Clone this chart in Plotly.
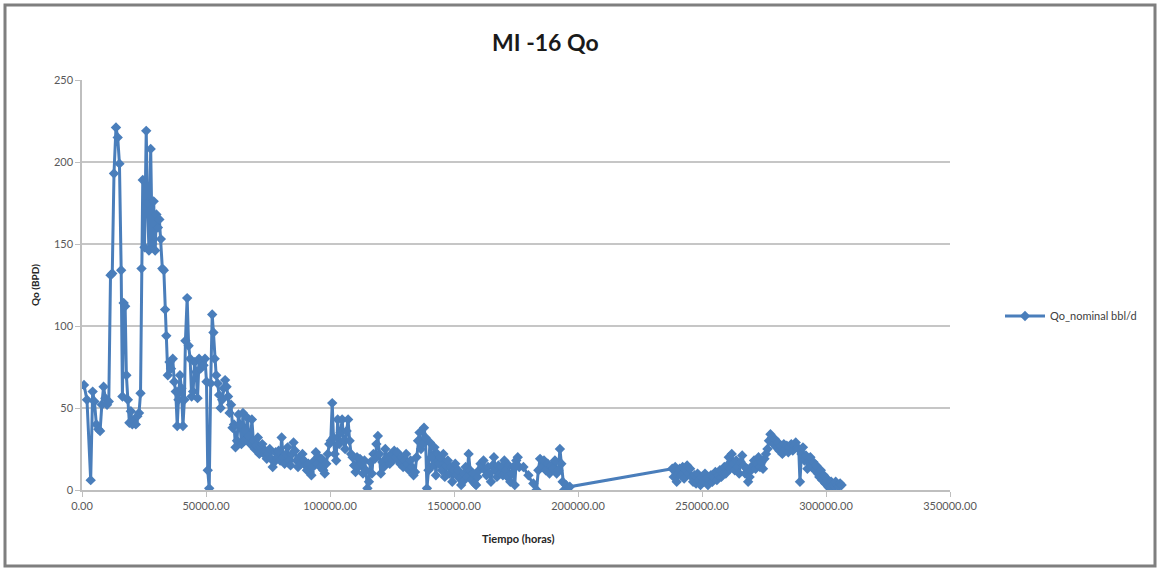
import plotly.graph_objects as go

# --- data ---
tiempo_horas = [
    800, 2000, 3500, 4300, 5000, 5800, 6600, 7300, 8000, 8700, 9400, 10100, 10800,
    11500, 12200, 12900, 13700, 14400, 15100, 15800, 16300, 16800, 17400, 17900,
    18500, 19100, 19700, 20300, 21000, 21700, 22300, 23000, 23600, 24000, 24500,
    25200, 25900, 26400, 27000, 27700, 28300, 28900, 29500, 30000, 30600, 31200,
    31800, 32400, 33000, 33500, 34000, 34600, 35300, 35900, 36600, 37200, 37800,
    38400, 38900, 39500, 40100, 40700, 41300, 41700, 42400, 43000, 43600, 44200,
    44800, 45400, 46000, 46600, 47200, 47800, 48400, 49000, 49600, 50200, 50700,
    51300, 51900, 52500, 53000, 53500, 54100, 54700, 55300, 55900, 56500, 57100,
    57700, 58300, 58900, 59500, 60100, 60700, 61300, 61900, 62500, 63100, 63700,
    64300, 64900,
    65500, 66100, 66700, 67300, 67900, 68500, 69100, 69700, 70300, 70900, 71500,
    72100, 72700, 73300, 73900, 74500, 75100, 75700, 76300, 76900, 77500, 78100,
    78700, 79300, 79900, 80500, 81100, 81700, 82300, 82900, 83500, 84100, 84700,
    85300, 85900, 86500, 87100, 87700, 88300, 88900, 89500, 90100, 90700, 91300,
    91900, 92500, 93100, 93700, 94300, 94900, 95500, 96100, 96700, 97300, 97900,
    98500, 99100, 99700, 100300, 100900, 101400, 101900, 102500, 103100, 103700,
    104300, 104900, 105500, 106100, 106700, 107300, 107900, 108500, 109100, 109700,
    110300, 110900, 111500, 112100, 112700, 113300, 113900, 114500, 115100, 115700,
    116300, 116900, 117500, 118100, 118700, 119300, 119900, 120500, 121100, 121700,
    122300, 122900, 123500, 124100, 124700, 125300, 125900, 126500, 127100, 127700,
    128300, 128900, 129500, 130100, 130700, 131300, 131900, 132500, 133100, 133700,
    134300, 134900, 135500, 136100, 136700, 137300, 137900, 138500, 139100, 139700,
    140300, 140900, 141500, 142100, 142700, 143300, 143900, 144500, 145100, 145700,
    146300, 146900, 147500, 148100, 148700, 149300, 149900, 150500, 151100, 151700,
    152300, 152900, 153500, 154100, 154700, 155300, 155900, 156500, 157100, 157700,
    158300, 158900, 159500, 160100, 160700, 161300, 161900, 162500, 163100, 163700,
    164300, 164900, 165500, 166100, 166700, 167300, 167900, 168500, 169100, 169700,
    170300, 170900, 171500, 172100, 172700, 173300, 173900, 174500, 175100, 175700,
    176300, 178000, 180000, 182000, 183300, 184000, 184700, 185500, 186300, 187000,
    187800, 188500, 189300, 190000, 190700, 191400, 192100, 192700, 193300, 193800,
    194400, 195200, 196000, 196700,
    238000, 238600, 239200, 239800, 240400, 241000, 241600, 242200, 242800, 243400,
    244000, 244600, 245200, 245800, 246400, 247000, 247600, 248200, 248800, 249400,
    250000, 250600, 251200, 251800, 252400, 253000, 253600, 254200, 254800, 255400,
    256000, 256600, 257200, 257800, 258400, 259000, 259600, 260200, 260800, 261400,
    262000, 262600, 263200, 263800, 264400, 265000, 265600, 266200, 266800, 267400,
    268000, 268600, 269200, 269800, 270400, 271000, 271600, 272200, 272800, 273400,
    274000, 274600, 275200, 275800, 276400, 277000, 277600, 278200, 278800, 279400,
    280000, 280600, 281200, 281800, 282400, 283000, 283600, 284200, 284800, 285400,
    286000, 286600, 287200, 287800, 288400, 289000, 289500, 290100, 290700, 291300,
    291900, 292500, 293100, 293700, 294300, 294900, 295500, 296100, 296700, 297300,
    297900, 298500, 299100, 299700, 300300, 300900, 301500, 302100, 302700, 303300,
    303900, 304500, 305100, 305700, 306300,
]

qo_nominal_bpd = [
    64, 55, 6, 60, 54, 40, 37, 36, 52, 63, 56, 52, 54,
    131, 132, 193, 221, 215, 199, 134, 57, 114, 112, 70,
    55, 41, 48, 40, 42, 40, 45, 47, 59, 135, 189,
    148, 219, 175, 146, 208, 150, 176, 146, 168, 160, 165,
    153, 135, 134, 110, 94, 70, 78, 74, 80, 66, 60,
    39, 55, 70, 62, 39, 55, 91, 117, 88, 80, 57,
    60, 78, 72, 56, 80, 74, 78, 76, 80, 66, 12,
    1, 65, 107, 96, 80, 70, 65, 58, 50, 55, 62,
    67, 63, 57, 47, 52, 38, 40, 26, 30, 46, 40,
    28, 47,
    30, 36, 44, 33, 28, 43, 30, 25, 27, 32, 22,
    26, 28, 22, 24, 19, 22, 25, 19, 14, 17, 23,
    20, 24, 18, 32, 20, 16, 22, 26, 18, 15, 22,
    29, 24, 18, 14, 20, 16, 22, 18, 15, 12, 16,
    11, 9, 14, 18, 23, 16, 20, 14, 19, 12, 10,
    16, 22, 28, 30, 53, 32, 22, 18, 43, 28,
    35, 43, 30, 25, 36, 43, 30, 22, 20, 15,
    11, 20, 14, 19, 16, 10, 18, 12, 1, 5,
    17, 10, 22, 19, 28, 33, 22, 10, 17, 14,
    25, 20, 18, 16, 22, 18, 24, 20, 23, 18,
    16, 20, 14, 18, 22, 16, 12, 18, 14, 9,
    11, 20, 30, 35, 25, 28, 38, 32, 1, 12,
    29, 20, 15, 26, 9, 22, 16, 20, 12, 22,
    8, 15, 18, 10, 14, 5, 12, 16, 9, 12,
    7, 3, 5, 10, 14, 8, 22, 12, 6, 10,
    4, 3, 8, 12, 16, 14, 18, 12, 9, 14,
    10, 5, 15, 20, 12, 8, 15, 10, 14, 9,
    18, 12, 8, 15, 5, 10, 14, 3, 18, 20,
    14, 14, 9, 4, 0, 12, 19, 14, 18, 12,
    16, 10, 15, 13, 18, 10, 12, 25, 16, 5,
    0, 3, 1, 2,
    13, 8, 14, 5, 10, 13, 9, 14, 7, 12,
    15, 10, 13, 8, 5, 9, 4, 10, 6, 3,
    8, 5, 10, 7, 3, 6, 9, 5, 8, 11,
    6, 9, 12, 8, 10, 14, 10, 15, 20, 13,
    22, 16, 12, 18, 14, 10, 17, 21, 15, 10,
    13, 5, 8, 12, 15, 18, 13, 16, 20, 14,
    17, 13, 19, 22, 25, 30, 34, 32, 28, 31,
    26, 29, 24, 27, 22, 28, 25, 27, 23, 26,
    28, 24, 27, 29, 26, 25, 5, 22, 26, 18,
    21, 13, 17, 20, 14, 17, 12, 15, 10, 8,
    12, 6, 9, 4, 7, 2, 1, 5, 3, 2,
    5, 3, 2, 4, 3,
]

series_name = "Qo_nominal bbl/d"
chart_title = "MI -16 Qo"
x_title = "Tiempo (horas)"
y_title = "Qo (BPD)"
x_tick_vals = [0, 50000, 100000, 150000, 200000, 250000, 300000, 350000]
y_tick_vals = [0, 50, 100, 150, 200, 250]

FONT = "Lato, 'Open Sans', sans-serif"
BLUE = "#4a7ebb"

fig = go.Figure()
fig.add_trace(go.Scatter(
    x=tiempo_horas, y=qo_nominal_bpd, mode="lines+markers", name=series_name,
    line=dict(color=BLUE, width=3),
    marker=dict(symbol="diamond", size=8, color=BLUE),
))

W, H = 1159, 571
L, R, T, B = 82, 209, 80, 81
pw, ph = W - L - R, H - T - B

def px(X):
    return (X - L) / pw

def py(Y):
    return (H - B - Y) / ph

fig.update_layout(
    width=W, height=H,
    margin=dict(l=L, r=R, t=T, b=B),
    paper_bgcolor="white", plot_bgcolor="white",
    font=dict(family=FONT, color="#595959", size=11),
    showlegend=True,
    legend=dict(x=px(1000), y=py(316), xanchor="left", yanchor="middle",
                font=dict(size=11, color="#404040", family=FONT),
                bgcolor="rgba(0,0,0,0)", itemwidth=40),
    xaxis=dict(range=[0, 350000], tickvals=x_tick_vals, tickformat=".2f",
               showgrid=False, showline=True, linecolor="#bfbfbf", linewidth=1.5,
               ticks="outside", ticklen=5, tickcolor="#bfbfbf",
               tickfont=dict(size=11, color="#595959"), zeroline=False,
               fixedrange=True),
    yaxis=dict(range=[0, 250], tickvals=y_tick_vals, showgrid=True,
               gridcolor="#c6c6c6", gridwidth=1.5,
               showline=True, linecolor="#bfbfbf", linewidth=1.5,
               ticks="outside", ticklen=5, tickcolor="#bfbfbf",
               tickfont=dict(size=11, color="#595959"), zeroline=False,
               fixedrange=True),
    annotations=[
        dict(text="<b>" + chart_title + "</b>", xref="paper", yref="paper",
             x=px(545), y=py(42), xanchor="center", yanchor="middle",
             showarrow=False, font=dict(size=23, color="#1a1a1a", family=FONT)),
        dict(text="<b>" + x_title + "</b>", xref="paper", yref="paper",
             x=px(518), y=py(538), xanchor="center", yanchor="middle",
             showarrow=False, font=dict(size=11, color="#262626", family=FONT)),
        dict(text="<b>" + y_title + "</b>", xref="paper", yref="paper",
             x=px(35), y=py(285), xanchor="center", yanchor="middle",
             textangle=-90, showarrow=False,
             font=dict(size=10, color="#262626", family=FONT)),
    ],
    shapes=[
        dict(type="rect", xref="paper", yref="paper",
             x0=px(5), x1=px(1155), y0=py(566), y1=py(5),
             line=dict(color="#7f7f7f", width=3), layer="below"),
    ],
)

fig.write_html("out.html", config={"displayModeBar": False},
               post_script="document.body.style.margin='0';document.body.style.overflow='hidden';")
